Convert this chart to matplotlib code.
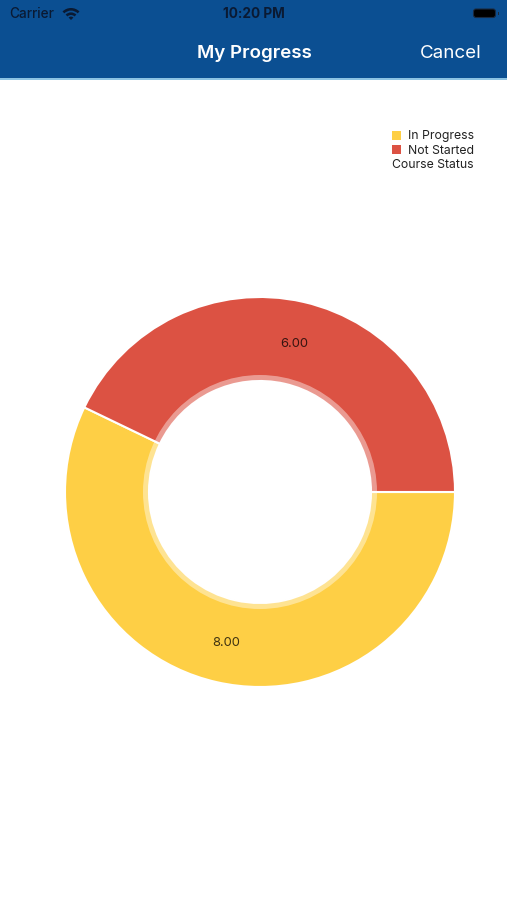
import matplotlib
matplotlib.use("Agg")
import matplotlib.pyplot as plt
from matplotlib.patches import Rectangle, Wedge, Circle, FancyBboxPatch

# ---- data ----
categories = ["In Progress", "Not Started"]
values = [8, 6]
colors = ["#FECF45", "#DC5243"]
legend_title = "Course Status"
screen_title = "My Progress"
cancel_text = "Cancel"
carrier_text = "Carrier"
time_text = "10:20 PM"

W, H = 507, 900
fig = plt.figure(figsize=(W / 100, H / 100), dpi=100)
fig.patch.set_facecolor("white")

FONT = ["Inter", "DejaVu Sans"]

# ---- overlay axes in pixel coords ----
ui = fig.add_axes([0, 0, 1, 1])
ui.set_xlim(0, W)
ui.set_ylim(H, 0)
ui.axis("off")

NAV = "#0B4F92"
ui.add_patch(Rectangle((0, 0), W, 78, facecolor=NAV, edgecolor="none"))
ui.add_patch(Rectangle((0, 78), W, 1.5, facecolor="#8CC3E3", edgecolor="none"))

dark = "#0A1A33"
ui.text(9, 18, carrier_text, fontsize=9.8, color=dark, family=FONT,
        va="baseline", ha="left", weight="medium")
ui.text(254, 18, time_text, fontsize=9.8, color=dark, family=FONT,
        va="baseline", ha="center", weight="bold")
# wifi icon
cx, cy = 71, 20
for r, w in [(12, 2.6), (7.6, 2.6)]:
    ui.add_patch(Wedge((cx, cy), r, 225, 315, width=w, facecolor=dark, edgecolor="none"))
ui.add_patch(Wedge((cx, cy), 3.4, 225, 315, facecolor=dark, edgecolor="none"))
# battery
ui.add_patch(FancyBboxPatch((474, 9.5), 21, 7.5, boxstyle="round,pad=0.5,rounding_size=2.5",
                            facecolor="black", edgecolor="#1a2a40", linewidth=0.8))
ui.add_patch(Rectangle((497.5, 11.5), 1.6, 3.5, facecolor="#1a2a40", edgecolor="none"))

ui.text(254, 58.5, screen_title, fontsize=13.5, color="white", family=FONT,
        va="baseline", ha="center", weight="semibold")
ui.text(482, 58.5, cancel_text, fontsize=13.5, color="white", family=FONT,
        va="baseline", ha="right")

# legend
for i, (lab, col) in enumerate(zip(categories, colors)):
    y = 135 + i * 14.5
    ui.add_patch(Rectangle((392, y - 4.5), 9, 9, facecolor=col, edgecolor="none"))
    ui.text(408, y + 4, lab, fontsize=8.8, color="#222222", family=FONT, va="baseline", ha="left")
ui.text(392, 168.5, legend_title, fontsize=8.8, color="#222222", family=FONT,
        va="baseline", ha="left")

# ---- donut ----
cxp, cyp, R = 260, 492, 195
ax = fig.add_axes([(cxp - R) / W, (H - cyp - R) / H, 2 * R / W, 2 * R / H])
total = sum(values)
hole = 111 / R
wedges, texts, autotexts = ax.pie(
    values, colors=colors, startangle=0, counterclock=False,
    radius=1, wedgeprops=dict(width=1 - hole, edgecolor="white", linewidth=1.5),
    autopct=lambda p: f"{p * total / 100:.2f}", pctdistance=0.785,
    textprops=dict(fontsize=9.3, color="black", alpha=0.75, family=FONT))
for t in autotexts:
    t.set_verticalalignment("center_baseline")
ax.add_patch(Circle((0, 0), 117 / R, facecolor="white", alpha=0.42, edgecolor="none"))
ax.add_patch(Circle((0, 0), hole, facecolor="white", edgecolor="none"))
ax.set_xlim(-1.0, 1.0)
ax.set_ylim(-1.0, 1.0)
ax.axis("off")

fig.savefig("out.png", dpi=100)
